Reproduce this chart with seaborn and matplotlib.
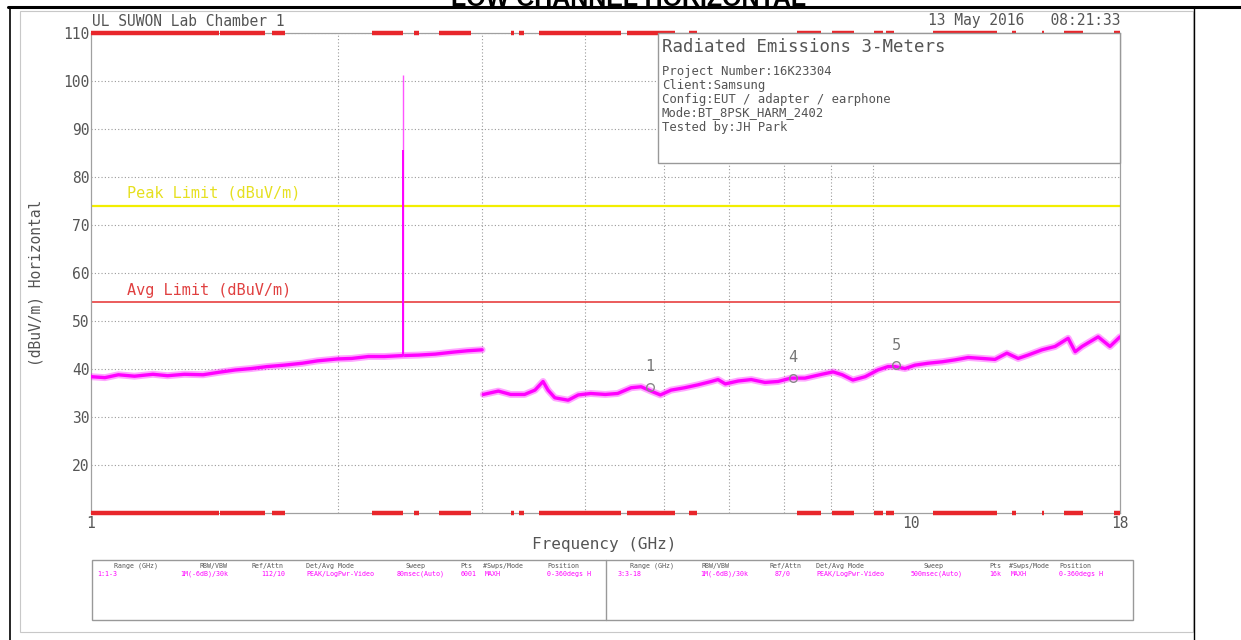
import matplotlib
matplotlib.use('Agg')
import matplotlib.pyplot as plt
from matplotlib.patches import Rectangle
from matplotlib.lines import Line2D
import pandas as pd
import seaborn as sns

sns.set_style('white')
plt.rcParams['font.family'] = ['DejaVu Sans Mono', 'DejaVu Sans']

W, H = 1241, 640

# --- trace, 1-3 GHz sweep (GHz, dBuV/m) ---
freq_lo = [1.0, 1.04, 1.08, 1.13, 1.19, 1.24, 1.30, 1.37, 1.43, 1.50, 1.57, 1.64,
           1.72, 1.81, 1.89, 2.00, 2.08, 2.18, 2.28, 2.40, 2.51, 2.63, 2.76, 2.88, 3.0]
level_lo = [38.4, 38.2, 38.8, 38.5, 38.9, 38.6, 38.9, 38.8, 39.3, 39.8, 40.1, 40.5,
            40.8, 41.2, 41.7, 42.1, 42.2, 42.6, 42.6, 42.8, 42.9, 43.1, 43.5, 43.8, 44.0]

# carrier spike in the low range
spike_freq = 2.402
spike_base = 42.8
spike_mid = 85.6
spike_peak = 101.2

# --- trace, 3-18 GHz sweep ---
freq_hi = [3.01, 3.14, 3.25, 3.38, 3.48, 3.56, 3.61, 3.68, 3.82, 3.93, 4.07, 4.24,
           4.39, 4.56, 4.69, 4.82, 4.95, 5.10, 5.30, 5.50, 5.71, 5.82, 5.94, 6.16,
           6.39, 6.64, 6.89, 7.14, 7.43, 7.79, 8.04, 8.25, 8.50, 8.80, 9.12, 9.38,
           9.57, 9.84, 10.12, 10.50, 10.92, 11.32, 11.75, 12.22, 12.67, 13.10, 13.52,
           13.90, 14.46, 15.00, 15.56, 15.87, 16.18, 16.93, 17.50, 18.0]
level_hi = [34.7, 35.4, 34.7, 34.7, 35.6, 37.4, 35.6, 34.0, 33.5, 34.6, 34.9, 34.7,
            34.9, 36.1, 36.3, 35.4, 34.6, 35.6, 36.1, 36.7, 37.4, 37.8, 36.9, 37.5,
            37.8, 37.2, 37.4, 38.1, 38.1, 38.9, 39.4, 38.8, 37.7, 38.4, 39.8, 40.5,
            40.5, 40.1, 40.8, 41.2, 41.5, 41.9, 42.4, 42.2, 42.0, 43.3, 42.2,
            42.9, 44.0, 44.7, 46.4, 43.6, 44.7, 46.7, 44.7, 46.7]

peak_limit = 74
avg_limit = 54

marker_freq = [4.81, 7.18, 9.60]
marker_level = [36.3, 38.2, 40.8]
marker_names = ['1', '4', '5']

# red bars drawn along the top and bottom frame (GHz)
bar_start = [1.0, 1.437, 1.663, 2.20, 2.48, 2.66, 3.25, 3.33, 3.52, 4.51, 5.37,
             7.27, 8.02, 9.02, 9.33, 10.65, 13.29, 14.46, 15.38, 17.70]
bar_end = [1.433, 1.630, 1.724, 2.40, 2.51, 2.91, 3.28, 3.37, 4.43, 5.16, 5.49,
           7.77, 8.53, 9.25, 9.54, 12.74, 13.44, 14.54, 16.23, 18.0]

x_ticks = [1, 10, 18]
x_grid = [2, 3, 4, 5, 6, 7, 8, 9, 10]
y_ticks = [20, 30, 40, 50, 60, 70, 80, 90, 100, 110]

info_title = 'Radiated Emissions 3-Meters'
info_lines = ['Project Number:16K23304', 'Client:Samsung',
              'Config:EUT / adapter / earphone', 'Mode:BT_8PSK_HARM_2402',
              'Tested by:JH Park']

table_head = ['Range (GHz)', 'RBW/VBW', 'Ref/Attn', 'Det/Avg Mode', 'Sweep',
              'Pts', '#Swps/Mode', 'Position']
table_left = ['1:1-3', '1M(-6dB)/30k', '112/10', 'PEAK/LogPwr-Video',
              '80msec(Auto)', '6001', 'MAXH', '0-360degs H']
table_right = ['3:3-18', '1M(-6dB)/30k', '87/0', 'PEAK/LogPwr-Video',
               '500msec(Auto)', '16k', 'MAXH', '0-360degs H']

GRAY = '#555555'
MAG = '#ff00ff'
RED = '#e8262b'


def fx(px):
    return px / W


def fy(py):
    return 1 - py / H


fig = plt.figure(figsize=(W / 100, H / 100), dpi=100)
ax = fig.add_axes([fx(91), fy(513), 1029 / W, 480 / H])

ax.set_xscale('log')
ax.set_xlim(1, 18)
ax.set_ylim(10, 110)

# grid
ax.set_xticks(x_ticks, labels=[str(t) for t in x_ticks])
ax.set_xticks(x_grid, labels=[''] * len(x_grid), minor=True)
ax.set_yticks(y_ticks, labels=[str(t) for t in y_ticks])
ax.xaxis.grid(True, which='minor', ls=(0, (1, 2)), color='#9a9a9a', lw=0.8)
ax.yaxis.grid(True, which='major', ls=(0, (1, 2)), color='#9a9a9a', lw=0.8)
ax.tick_params(which='both', length=0, colors=GRAY, labelsize=10.5)
ax.tick_params(axis='x', pad=2)
ax.tick_params(axis='y', pad=1)
for s in ax.spines.values():
    s.set_color('#a0a0a0')
    s.set_linewidth(0.9)

# limits
ax.axhline(peak_limit, color='#f2ee00', lw=1.6, zorder=2)
ax.axhline(avg_limit, color='#e84040', lw=1.2, zorder=2)
ax.text(1.106, 76.7, 'Peak Limit (dBuV/m)', color='#e6e020', fontsize=11, va='center')
ax.text(1.106, 56.3, 'Avg Limit (dBuV/m)', color='#e04040', fontsize=11, va='center')

# traces: soft outer band + solid core, like the noisy analyser sweep
df_lo = pd.DataFrame({'f': freq_lo, 'lvl': level_lo})
df_hi = pd.DataFrame({'f': freq_hi, 'lvl': level_hi})
for df in (df_lo, df_hi):
    sns.lineplot(data=df, x='f', y='lvl', ax=ax, color=MAG, lw=5.0, alpha=0.35,
                 sort=False, estimator=None, zorder=3)
    sns.lineplot(data=df, x='f', y='lvl', ax=ax, color=MAG, lw=2.4, sort=False,
                 estimator=None, zorder=3)
ax.vlines(spike_freq, spike_base, spike_peak, color='#ff55ff', lw=1.0, zorder=3)
ax.vlines(spike_freq, spike_base, spike_mid, color=MAG, lw=1.4, zorder=3)

# markers
ax.plot(marker_freq, marker_level, ls='none', marker='o', ms=5.5, mfc='none',
        mec='#888888', mew=1.0, zorder=4)
for mf, ml, mn in zip(marker_freq, marker_level, marker_names):
    ax.annotate(mn, (mf, ml), xytext=(0, 9), textcoords='offset points',
                ha='center', va='bottom', color='#777777', fontsize=11, zorder=4)

# red bars on the frame
ax.hlines([110] * len(bar_start), bar_start, bar_end, color=RED, lw=3.2,
          clip_on=False, zorder=5)
ax.hlines([10] * len(bar_start), bar_start, bar_end, color=RED, lw=3.2,
          clip_on=False, zorder=5)

ax.set_xlabel('')
ax.set_ylabel('')

# info box
fig.add_artist(Rectangle((fx(658), fy(163)), (1120 - 658) / W, 130 / H,
                         facecolor='white', edgecolor='#999999', lw=1, zorder=6))
fig.text(fx(662), fy(47), info_title, fontsize=12.5, color=GRAY, va='center', zorder=7)
for i, line in enumerate(info_lines):
    fig.text(fx(662), fy(71 + 14 * i), line, fontsize=8.8, color=GRAY,
             va='center', zorder=7)

# header texts
fig.text(fx(92), fy(21), 'UL SUWON Lab Chamber 1', fontsize=10.5, color=GRAY, va='center')
fig.text(fx(1121), fy(21), '13 May 2016   08:21:33', fontsize=10.5, color=GRAY,
         va='center', ha='right')
fig.text(fx(36), fy(283), '(dBuV/m) Horizontal', fontsize=10.5, color=GRAY,
         rotation=90, ha='center', va='center')
fig.text(fx(604), fy(544), 'Frequency (GHz)', fontsize=11.5, color=GRAY,
         ha='center', va='center')

# settings table
fig.add_artist(Rectangle((fx(92), fy(620)), (1133 - 92) / W, 60 / H,
                         facecolor='none', edgecolor='#999999', lw=1))
fig.add_artist(Line2D([fx(606), fx(606)], [fy(560), fy(620)], color='#999999', lw=1))
head_left_x = [114, 199, 252, 306, 406, 460, 483, 547]
val_left_x = [97, 180, 261, 306, 397, 461, 485, 547]
head_right_x = [630, 702, 770, 816, 923, 989, 1009, 1059]
val_right_x = [618, 700, 775, 816, 911, 989, 1011, 1059]
for txt, hx in zip(table_head, head_left_x):
    fig.text(fx(hx), fy(566), txt, fontsize=4.8, color=GRAY, va='center')
for txt, hx in zip(table_head, head_right_x):
    fig.text(fx(hx), fy(566), txt, fontsize=4.8, color=GRAY, va='center')
for txt, vx in zip(table_left, val_left_x):
    fig.text(fx(vx), fy(574), txt, fontsize=4.8, color=MAG, va='center')
for txt, vx in zip(table_right, val_right_x):
    fig.text(fx(vx), fy(574), txt, fontsize=4.8, color=MAG, va='center')

# page frame and the page heading, cut by the top edge as in the source page
fig.add_artist(Rectangle((fx(20), fy(632)), (1193 - 20) / W, (632 - 11) / H,
                         facecolor='none', edgecolor='#c8c8c8', lw=0.8))
fig.add_artist(Line2D([fx(8), 1], [fy(7), fy(7)], color='black', lw=2.2))
fig.add_artist(Line2D([fx(10), fx(10)], [fy(7), 0], color='black', lw=1.2))
fig.add_artist(Line2D([fx(1194), fx(1194)], [fy(7), 0], color='black', lw=1.0))
fig.text(fx(629), fy(5.5), 'LOW CHANNEL HORIZONTAL', family='Liberation Sans',
         weight='bold', fontsize=18, ha='center', va='baseline', color='black')

fig.savefig('out.png', dpi=100)
